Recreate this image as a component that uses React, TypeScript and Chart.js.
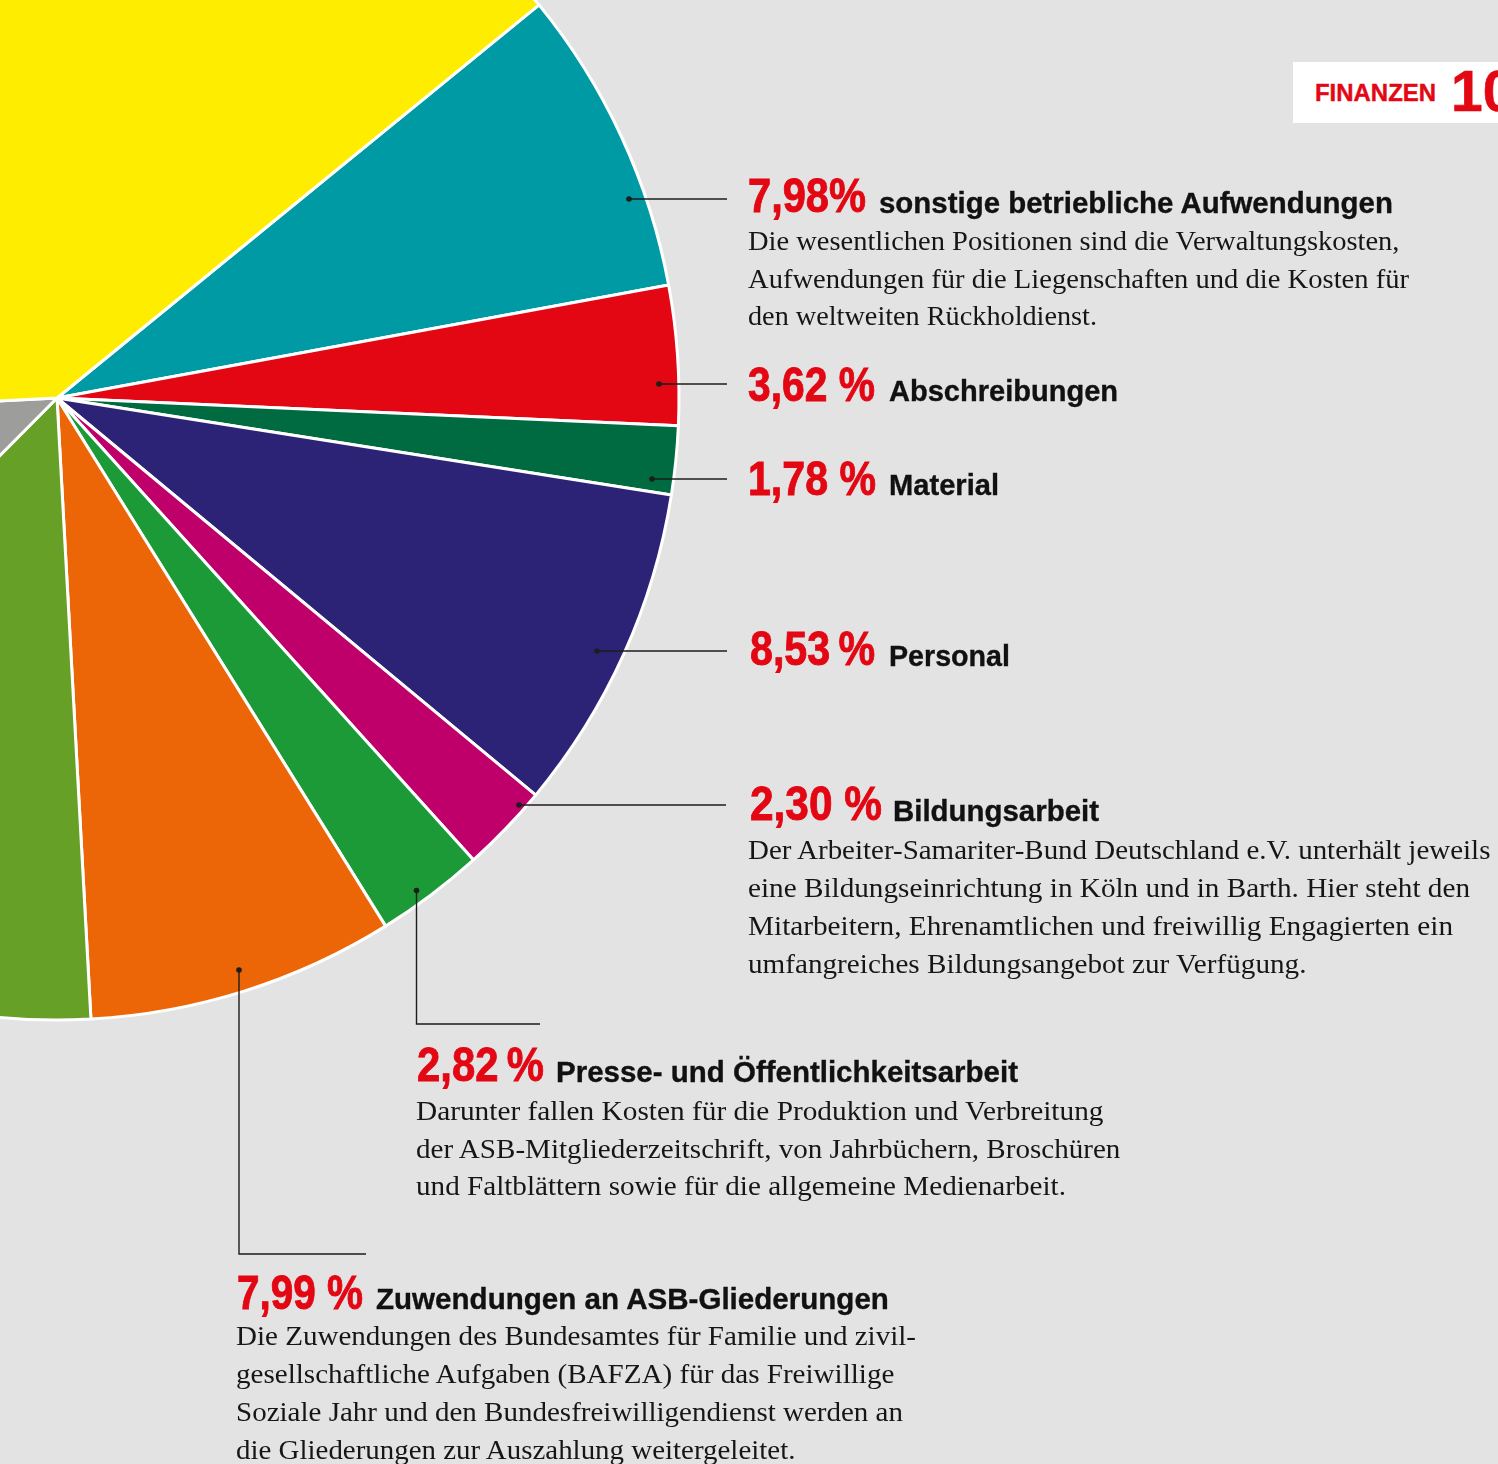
import React, { useEffect, useRef } from "react";
import { Chart, registerables } from "chart.js";

Chart.register(...registerables);

// ---------- data ----------
const categories = [
  "sonstige betriebliche Aufwendungen",
  "Abschreibungen",
  "Material",
  "Personal",
  "Bildungsarbeit",
  "Presse- und Öffentlichkeitsarbeit",
  "Zuwendungen an ASB-Gliederungen",
  "weitere Aufwendungen (grün)",
  "weitere Aufwendungen (grau)",
  "weitere Aufwendungen (gelb)",
];
const shares = [7.98, 3.62, 1.78, 8.53, 2.3, 2.82, 7.99, 13.31, 11.75, 39.92];
const sliceColors = [
  "#009aa5",
  "#e30613",
  "#006b40",
  "#2d2376",
  "#c0006a",
  "#1b9a37",
  "#ec6608",
  "#67a026",
  "#9d9d9c",
  "#ffed00",
];
const percentLabels = ["7,98%", "3,62 %", "1,78 %", "8,53\u2009%", "2,30 %", "2,82\u2009%", "7,99 %"];
const descriptions: string[][] = [
  [
    "Die wesentlichen Positionen sind die Verwaltungskosten,",
    "Aufwendungen für die Liegenschaften und die Kosten für",
    "den weltweiten Rückholdienst.",
  ],
  [],
  [],
  [],
  [
    "Der Arbeiter-Samariter-Bund Deutschland e.V. unterhält jeweils",
    "eine Bildungseinrichtung in Köln und in Barth. Hier steht den",
    "Mitarbeitern, Ehrenamtlichen und freiwillig Engagierten ein",
    "umfangreiches Bildungsangebot zur Verfügung.",
  ],
  [
    "Darunter fallen Kosten für die Produktion und Verbreitung",
    "der ASB-Mitgliederzeitschrift, von Jahrbüchern, Broschüren",
    "und Faltblättern sowie für die allgemeine Medienarbeit.",
  ],
  [
    "Die Zuwendungen des Bundesamtes für Familie und zivil-",
    "gesellschaftliche Aufgaben (BAFZA) für das Freiwillige",
    "Soziale Jahr und den Bundesfreiwilligendienst werden an",
    "die Gliederungen zur Auszahlung weitergeleitet.",
  ],
];

// ---------- layout (positions / sizes only) ----------
const PAGE_W = 1498;
const PAGE_H = 1464;
const CANVAS_LEFT = -700;
const CANVAS_TOP = -398;
const CANVAS_W = 2198;
const CANVAS_H = 1862;

// label block layout
const labelLayout = [
  { px: 748, base: 212.5, pw: 118, sx: 879, sw: 515, bx: 748, bb: 250.5, bw: [652, 661, 349] },
  { px: 748, base: 401.5, pw: 127, sx: 888.6, sw: 229, bx: 748, bb: 0, bw: [] },
  { px: 748, base: 495.5, pw: 128, sx: 889, sw: 110, bx: 748, bb: 0, bw: [] },
  { px: 750, base: 665.5, pw: 125, sx: 889, sw: 121, bx: 748, bb: 0, bw: [] },
  { px: 750, base: 820.5, pw: 132, sx: 893, sw: 206, bx: 748, bb: 860, bw: [744, 722, 705, 559] },
  { px: 416.5, base: 1081.5, pw: 127, sx: 555.7, sw: 462, bx: 416, bb: 1120.5, bw: [688, 706, 650] },
  { px: 237, base: 1309, pw: 126, sx: 376, sw: 514, bx: 236, bb: 1346, bw: [680, 660, 667, 561] },
];
const subtitleShift = [1.5, 0, 0, 1.5, 1.5, 1.5, 1];
const BODY_LINE = 37.7;

// callout leader paths, offsets from pie centre (first point = dot)
const callouts: number[][][] = [
  [[572, -199], [670, -199]],
  [[602, -14], [670, -14]],
  [[595, 81], [670, 81]],
  [[540, 253], [670, 253]],
  [[462, 407], [669, 407]],
  [[359.5, 492.5], [359.5, 626], [483, 626]],
  [[182, 572], [182, 856], [309, 856]],
];

const SANS = '"Liberation Sans", Arial, Helvetica, sans-serif';
const SERIF = '"Liberation Serif", "Times New Roman", Times, serif';

let measureCtx: CanvasRenderingContext2D | null = null;
function measure(text: string, font: string): number {
  if (!measureCtx) measureCtx = document.createElement("canvas").getContext("2d");
  if (!measureCtx) return 1;
  measureCtx.font = font;
  return measureCtx.measureText(text).width || 1;
}

function FitText(props: {
  text: string;
  x: number;
  baseline: number;
  size: number;
  weight: number;
  family: string;
  serif?: boolean;
  color: string;
  width?: number;
  stroke?: number;
}) {
  const { text, x, baseline, size, weight, family, serif, color, width, stroke } = props;
  const asc = serif ? 0.891 : 0.905;
  const desc = serif ? 0.216 : 0.212;
  const nat = measure(text, `${weight} ${size}px ${family}`);
  const sx = width ? width / nat : 1;
  const style: any = {
    position: "absolute",
    left: x,
    top: baseline - asc * size,
    fontFamily: family,
    fontSize: size,
    fontWeight: weight,
    lineHeight: `${(asc + desc) * size}px`,
    color,
    whiteSpace: "pre",
    transform: `scaleX(${sx})`,
    transformOrigin: "0 0",
  };
  if (stroke) style.WebkitTextStroke = `${stroke}px ${color}`;
  return <div style={style}>{text}</div>;
}

const calloutPlugin = {
  id: "callouts",
  afterDatasetsDraw(chart: any) {
    const meta = chart.getDatasetMeta(0);
    const arc = meta.data[0];
    if (!arc) return;
    const cx = arc.x;
    const cy = arc.y;
    const ctx = chart.ctx;
    ctx.save();
    ctx.strokeStyle = "#1d1d1b";
    ctx.fillStyle = "#1d1d1b";
    ctx.lineWidth = 1.4;
    callouts.forEach((pts) => {
      ctx.beginPath();
      pts.forEach(([dx, dy], i) => {
        const px = cx + dx;
        const py = cy + dy;
        if (i === 0) ctx.moveTo(px, py);
        else ctx.lineTo(px, py);
      });
      ctx.stroke();
      ctx.beginPath();
      ctx.arc(cx + pts[0][0], cy + pts[0][1], 2.8, 0, Math.PI * 2);
      ctx.fill();
    });
    ctx.restore();
  },
};

export default function App() {
  const canvasRef = useRef<HTMLCanvasElement | null>(null);

  useEffect(() => {
    document.body.style.margin = "0";
    const canvas = canvasRef.current;
    if (!canvas) return;
    const chart = new Chart(canvas, {
      type: "pie",
      data: {
        labels: categories,
        datasets: [
          {
            data: shares,
            backgroundColor: sliceColors,
            borderColor: "#ffffff",
            borderWidth: 3,
          },
        ],
      },
      options: {
        animation: false,
        responsive: false,
        devicePixelRatio: 1,
        rotation: 50.8,
        radius: 622,
        events: [],
        layout: {
          // chart area = 1514 x 1592, centred at canvas (757, 796) -> page (57, 398)
          padding: { left: 0, top: 0, right: 684, bottom: 270 },
        },
        plugins: {
          legend: { display: false },
          tooltip: { enabled: false },
          title: { display: false },
        },
      } as any,
      plugins: [calloutPlugin],
    });
    return () => chart.destroy();
  }, []);

  return (
    <div
      style={{
        position: "absolute",
        left: 0,
        top: 0,
        width: PAGE_W,
        height: PAGE_H,
        overflow: "hidden",
        background: "#e3e3e3",
      }}
    >
      <canvas
        ref={canvasRef}
        width={CANVAS_W}
        height={CANVAS_H}
        style={{
          position: "absolute",
          left: CANVAS_LEFT,
          top: CANVAS_TOP,
          width: CANVAS_W,
          height: CANVAS_H,
        }}
      />

      {/* header tag */}
      <div
        style={{
          position: "absolute",
          left: 1293,
          top: 62,
          width: 220,
          height: 61,
          background: "#ffffff",
        }}
      />
      <FitText text="FINANZEN" x={1315} baseline={101.7} size={23.5} weight={700} family={SANS} color="#e30613" width={121} stroke={0.4} />
      <FitText text="10" x={1451} baseline={112} size={57} weight={700} family={SANS} color="#e30613" stroke={0.6} />

      {labelLayout.map((l, i) => (
        <React.Fragment key={i}>
          <FitText text={percentLabels[i]} x={l.px} baseline={l.base} size={49} weight={700} family={SANS} color="#e30613" width={l.pw} stroke={0.9} />
          <FitText text={categories[i]} x={l.sx} baseline={l.base + subtitleShift[i]} size={29.5} weight={700} family={SANS} color="#111111" width={l.sw} stroke={0.35} />
          {descriptions[i].map((line, j) => (
            <FitText
              key={j}
              text={line}
              x={l.bx}
              baseline={l.bb + j * BODY_LINE}
              size={27.5}
              weight={400}
              family={SERIF}
              serif
              color="#161616"
              width={l.bw[j]}
            />
          ))}
        </React.Fragment>
      ))}
    </div>
  );
}
